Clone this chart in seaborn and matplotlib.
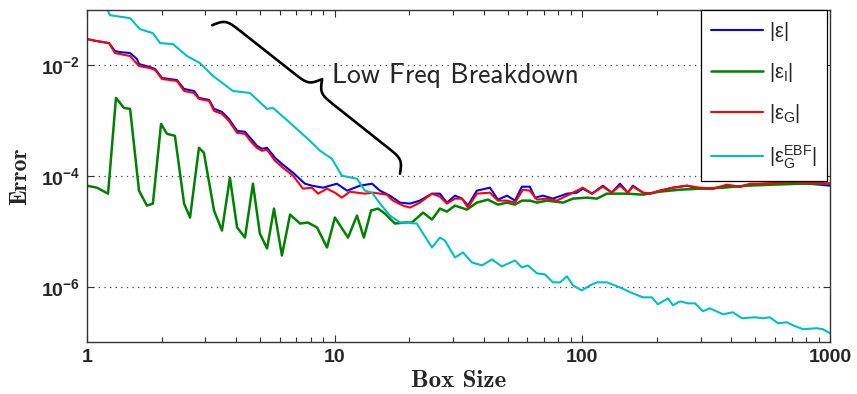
import numpy as np
import pandas as pd
import matplotlib
matplotlib.use("Agg")
import matplotlib.pyplot as plt
import seaborn as sns
from matplotlib.ticker import FixedLocator, NullLocator, LogLocator, NullFormatter

# Box sizes and errors, both given as powers of ten (log10 values)
total_box_exp = [0, .040, .089, .113, .133, .174, .202, .210, .254, .275,
                 .303, .363, .392, .432, .452, .493, .513, .545, .573, .606,
                 .638, .666, .686, .706, .727, .759, .791, .832, .880, .908,
                 .953, 1.009, 1.050, 1.102, 1.151, 1.183, 1.223, 1.264, 1.304, 1.344,
                 1.393, 1.425, 1.453, 1.486, 1.514, 1.538, 1.574, 1.627, 1.659, 1.696,
                 1.728, 1.756, 1.788, 1.809, 1.841, 1.881, 1.938, 1.978, 2.002, 2.039,
                 2.083, 2.119, 2.152, 2.184, 2.204, 2.245, 2.273, 2.313, 2.366, 2.422,
                 2.475, 2.527, 2.584, 2.636, 2.677, 2.729, 2.786, 2.850, 2.907, 2.959,
                 3.0]
total_err_exp = [-1.526, -1.562, -1.598, -1.742, -1.760, -1.778, -1.886, -1.977, -2.031, -2.067,
                 -2.229, -2.265, -2.427, -2.463, -2.589, -2.625, -2.787, -2.841, -2.968, -3.184,
                 -3.202, -3.346, -3.454, -3.508, -3.490, -3.670, -3.796, -3.941, -4.139, -4.175,
                 -4.211, -4.139, -4.265, -4.175, -4.139, -4.265, -4.355, -4.481, -4.499, -4.445,
                 -4.319, -4.319, -4.481, -4.355, -4.409, -4.535, -4.265, -4.211, -4.427, -4.355,
                 -4.445, -4.193, -4.193, -4.391, -4.355, -4.409, -4.319, -4.301, -4.229, -4.319,
                 -4.175, -4.301, -4.139, -4.301, -4.175, -4.301, -4.319, -4.265, -4.211, -4.175,
                 -4.229, -4.229, -4.175, -4.193, -4.157, -4.139, -4.139, -4.121, -4.139, -4.157,
                 -4.175]

interp_box_exp = [0, .040, .085, .117, .149, .174, .210, .242, .266, .299,
                  .323, .355, .392, .416, .452, .472, .513, .545, .577, .606,
                  .638, .670, .698, .727, .755, .787, .820, .860, .892, .929,
                  .969, 1.001, 1.054, 1.090, 1.118, 1.147, 1.175, 1.203, 1.243, 1.284,
                  1.312, 1.357, 1.393, 1.425, 1.453, 1.486, 1.534, 1.574, 1.619, 1.659,
                  1.696, 1.728, 1.756, 1.788, 1.817, 1.857, 1.922, 1.962, 2.019, 2.059,
                  2.099, 2.123, 2.180, 2.245, 2.313, 2.394, 2.475, 2.568, 2.664, 2.769,
                  2.878, 3.0]
interp_err_exp = [-4.175, -4.211, -4.319, -2.589, -2.769, -2.787, -4.265, -4.535, -4.499, -3.058,
                  -3.238, -3.274, -4.499, -4.751, -3.490, -3.580, -4.625, -4.985, -4.031, -4.931,
                  -5.112, -4.139, -5.040, -5.310, -4.589, -5.436, -4.697, -4.859, -4.841, -4.931,
                  -5.292, -4.751, -5.112, -4.715, -5.112, -4.625, -4.589, -4.679, -4.859, -4.841,
                  -4.841, -4.661, -4.787, -4.589, -4.643, -4.535, -4.607, -4.481, -4.427, -4.517,
                  -4.481, -4.517, -4.445, -4.445, -4.481, -4.445, -4.481, -4.409, -4.391, -4.409,
                  -4.319, -4.319, -4.319, -4.337, -4.283, -4.247, -4.229, -4.211, -4.175, -4.157,
                  -4.139, -4.139]

grid_box_exp = [0, .040, .089, .113, .133, .174, .210, .254, .275, .303,
                .363, .392, .432, .452, .493, .513, .545, .573, .606, .638,
                .666, .686, .706, .727, .759, .791, .832, .872, .908, .933,
                .969, 1.001, 1.029, 1.062, 1.090, 1.122, 1.155, 1.183, 1.211, 1.235,
                1.276, 1.304, 1.344, 1.393, 1.425, 1.453, 1.486, 1.514, 1.538, 1.574,
                1.627, 1.659, 1.696, 1.728, 1.760, 1.788, 1.817, 1.857, 1.897, 1.938,
                2.002, 2.039, 2.083, 2.119, 2.152, 2.184, 2.204, 2.245, 2.273, 2.313,
                2.366, 2.422, 2.475, 2.527, 2.584, 2.636, 2.677, 2.729, 2.786, 2.850,
                2.907, 2.959, 3.0]
grid_err_exp = [-1.526, -1.562, -1.598, -1.778, -1.796, -1.832, -2.013, -2.049, -2.085, -2.247,
                -2.283, -2.463, -2.499, -2.607, -2.643, -2.823, -2.877, -3.004, -3.220, -3.238,
                -3.400, -3.490, -3.544, -3.526, -3.724, -3.850, -3.995, -4.229, -4.211, -4.319,
                -4.229, -4.301, -4.391, -4.283, -4.301, -4.319, -4.301, -4.319, -4.337, -4.445,
                -4.535, -4.571, -4.481, -4.319, -4.373, -4.499, -4.409, -4.409, -4.571, -4.319,
                -4.301, -4.445, -4.445, -4.481, -4.247, -4.265, -4.427, -4.409, -4.445, -4.355,
                -4.211, -4.319, -4.193, -4.301, -4.175, -4.301, -4.193, -4.301, -4.319, -4.265,
                -4.211, -4.175, -4.211, -4.229, -4.157, -4.193, -4.139, -4.139, -4.121, -4.103,
                -4.121, -4.121, -4.139]

ebf_box_exp = [.065, .093, .174, .214, .266, .295, .347, .404, .456, .509,
               .589, .658, .727, .751, .820, .900, .941, .989, 1.029, 1.090,
               1.122, 1.151, 1.183, 1.223, 1.264, 1.332, 1.357, 1.393, 1.425, 1.445,
               1.486, 1.518, 1.554, 1.595, 1.635, 1.675, 1.728, 1.756, 1.780, 1.817,
               1.849, 1.881, 1.910, 1.938, 1.962, 1.998, 2.031, 2.059, 2.099, 2.152,
               2.204, 2.245, 2.281, 2.305, 2.346, 2.366, 2.394, 2.426, 2.455, 2.487,
               2.515, 2.568, 2.608, 2.644, 2.697, 2.729, 2.757, 2.790, 2.826, 2.850,
               2.891, 2.947, 2.971, 3.0]
ebf_err_exp = [-0.841, -1.094, -1.148, -1.346, -1.418, -1.598, -1.616, -1.832, -1.959, -2.193,
               -2.463, -2.499, -2.787, -2.769, -3.040, -3.364, -3.544, -3.688, -3.995, -4.049,
               -4.265, -4.301, -4.499, -4.715, -4.841, -4.859, -5.040, -5.292, -5.112, -5.166,
               -5.472, -5.382, -5.562, -5.616, -5.508, -5.634, -5.526, -5.652, -5.616, -5.760,
               -5.778, -5.922, -5.922, -5.814, -5.977, -6.067, -5.977, -5.922, -5.922, -6.013,
               -6.121, -6.193, -6.193, -6.319, -6.211, -6.337, -6.265, -6.301, -6.301, -6.445,
               -6.391, -6.499, -6.463, -6.571, -6.553, -6.571, -6.553, -6.661, -6.643, -6.697,
               -6.769, -6.751, -6.769, -6.841]

series_labels = [r"$|\varepsilon|$", r"$|\varepsilon_I|$",
                 r"$|\varepsilon_G|$", r"$|\varepsilon_G^{EBF}|$"]
x_ticks = [1, 10, 100, 1000]
x_tick_labels = ["1", "10", "100", "1000"]
y_ticks = [1e-6, 1e-4, 1e-2]
y_tick_labels = [r"$\mathbf{10^{-6}}$", r"$\mathbf{10^{-4}}$", r"$\mathbf{10^{-2}}$"]

# annotation: brace spanning the low-frequency regime
brace_start = (3.2, 5.3e-2)
brace_end = (18.35, 1.1e-4)
note_text = "Low Freq Breakdown"
note_pos = (9.75, 4.8e-3)

sns.set_style("ticks")
plt.rcParams.update({
    "font.family": ["Liberation Sans", "DejaVu Sans"],
    "mathtext.fontset": "custom",
    "mathtext.rm": "Liberation Sans",
    "mathtext.it": "Liberation Sans:italic",
    "mathtext.bf": "Liberation Sans:bold",
    "mathtext.default": "regular",
})

W, H = 857, 394
fig = plt.figure(figsize=(W / 100, H / 100), dpi=100)
ax = fig.add_axes([87 / W, 1 - 342 / H, (830 - 87) / W, (342 - 10) / H])
ax.set_xscale("log")
ax.set_yscale("log")


def frame(bexp, eexp):
    return pd.DataFrame({"box": 10.0 ** np.asarray(bexp), "err": 10.0 ** np.asarray(eexp)})


specs = [
    (total_box_exp, total_err_exp, "#0000ff", 1.5, series_labels[0]),
    (interp_box_exp, interp_err_exp, "#008000", 1.8, series_labels[1]),
    (grid_box_exp, grid_err_exp, "#ff0000", 1.5, series_labels[2]),
    (ebf_box_exp, ebf_err_exp, "#00bfbf", 1.5, series_labels[3]),
]
for bexp, eexp, col, lw, lab in specs:
    sns.lineplot(data=frame(bexp, eexp), x="box", y="err", ax=ax, color=col,
                 lw=lw, label=lab, estimator=None, sort=False)

ax.set_xlim(1, 1000)
ax.set_ylim(1e-7, 1e-1)

ax.xaxis.set_major_locator(FixedLocator(x_ticks))
ax.xaxis.set_minor_locator(LogLocator(base=10, subs=np.arange(2, 10)))
ax.xaxis.set_minor_formatter(NullFormatter())
ax.set_xticklabels(x_tick_labels, fontweight="bold", fontsize=14)
ax.yaxis.set_major_locator(FixedLocator(y_ticks))
ax.yaxis.set_minor_locator(NullLocator())
ax.set_yticklabels(y_tick_labels, fontsize=14)

ax.tick_params(axis="both", which="both", direction="in", top=True, right=True,
               color="#333333")
ax.tick_params(axis="both", which="major", length=5, width=0.8, pad=5)
ax.tick_params(axis="both", which="minor", length=3.5, width=0.8)
for sp in ax.spines.values():
    sp.set_color("#333333")
    sp.set_linewidth(1.0)

ax.yaxis.grid(True, which="major", linestyle=(0, (1, 3.5)), color="#444444", lw=0.9)
ax.xaxis.grid(False)

ax.set_xlabel("Box Size", fontfamily="cmb10", fontsize=18, labelpad=3)
ax.set_ylabel("Error", fontfamily="cmb10", fontsize=17, labelpad=7)

leg = ax.legend(loc="upper right", bbox_to_anchor=(0.996, 1.0), borderaxespad=0,
                fontsize=14.5, handlelength=2.6, handletextpad=0.3,
                labelspacing=0.9, borderpad=0.5, frameon=True, fancybox=False,
                framealpha=1)
leg.get_frame().set_edgecolor("black")
leg.get_frame().set_linewidth(0.9)


def draw_brace(ax, p0, p1, depth=26.0, beta=0.28, **kw):
    a = ax.transData.transform(p0)
    b = ax.transData.transform(p1)
    d = b - a
    L = np.hypot(*d)
    t = d / L
    n = np.array([-t[1], t[0]])
    u = np.linspace(0, L, 401)
    half = u[: len(u) // 2 + 1]
    vh = (1 / (1 + np.exp(-beta * (half - half[0])))
          + 1 / (1 + np.exp(-beta * (half - half[-1]))))
    v = np.concatenate([vh, vh[-2::-1]])[: len(u)] - 0.5
    pts = a + np.outer(u, t) + np.outer(v * depth, n)
    pts_ax = ax.transAxes.inverted().transform(pts)
    ax.plot(pts_ax[:, 0], pts_ax[:, 1], transform=ax.transAxes, clip_on=False, **kw)


draw_brace(ax, brace_start, brace_end, color="black", lw=1.9)
ax.text(note_pos[0], note_pos[1], note_text, fontfamily="cmss10", fontsize=20,
        ha="left", va="baseline")

fig.savefig("out.png", dpi=100)
